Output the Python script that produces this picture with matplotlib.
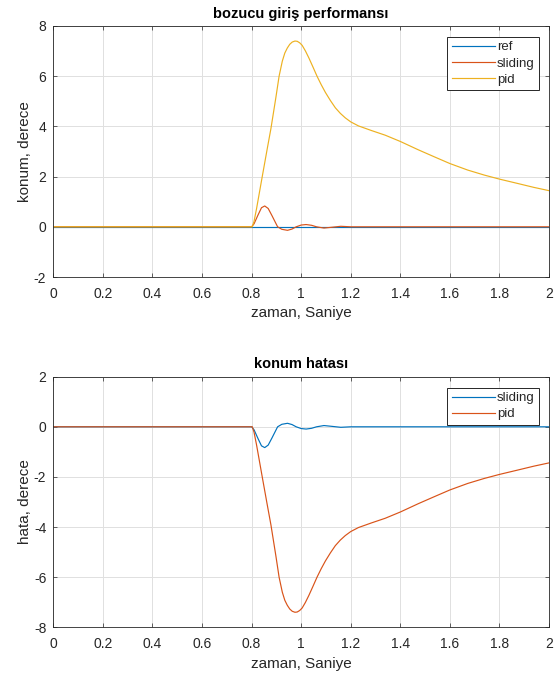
import matplotlib
matplotlib.use("Agg")
import matplotlib.pyplot as plt
import numpy as np

# ---------------- data ----------------
ref_t = [0.0, 2.0]
ref_y = [0.0, 0.0]

sliding_t = [0.0, 0.80, 0.81, 0.825, 0.84, 0.853, 0.867, 0.882, 0.905, 0.922,
             0.945, 0.963, 0.980, 1.000, 1.020, 1.042, 1.062, 1.092, 1.122, 1.160,
             1.20, 2.0]
sliding_y = [0.0, 0.0, 0.12, 0.45, 0.76, 0.83, 0.73, 0.45, 0.0, -0.10,
             -0.14, -0.09, 0.0, 0.07, 0.09, 0.06, 0.0, -0.05, -0.02, 0.02,
             0.0, 0.0]

pid_t = [0.0, 0.80, 0.803, 0.81, 0.82, 0.843, 0.863, 0.878, 0.898, 0.911,
         0.924, 0.934, 0.944, 0.954, 0.964, 0.975, 0.984, 0.994, 1.004, 1.017,
         1.031, 1.047, 1.064, 1.081, 1.098, 1.118, 1.138, 1.158,
         1.178, 1.20, 1.231, 1.285, 1.339, 1.40, 1.472, 1.539,
         1.60, 1.672, 1.739, 1.80, 1.872, 1.939, 2.0]
pid_y = [0.0, 0.0, 0.0, 0.22, 0.72, 2.00, 3.10, 3.91, 5.15, 6.00,
         6.60, 6.92, 7.12, 7.27, 7.36, 7.40, 7.39, 7.33, 7.23, 7.01,
         6.73, 6.38, 6.00, 5.66, 5.35, 5.03, 4.74, 4.52,
         4.34, 4.18, 4.02, 3.83, 3.65, 3.40, 3.07, 2.78,
         2.52, 2.26, 2.06, 1.90, 1.73, 1.57, 1.44]

# position error = reference - output
ref_at_sliding = np.interp(sliding_t, ref_t, ref_y)
ref_at_pid = np.interp(pid_t, ref_t, ref_y)
hata_sliding = ref_at_sliding - np.array(sliding_y)
hata_pid = ref_at_pid - np.array(pid_y)

x_ticks = [0, 0.2, 0.4, 0.6, 0.8, 1, 1.2, 1.4, 1.6, 1.8, 2]
x_ticklabels = ["0", "0.2", "0.4", "0.6", "0.8", "1", "1.2", "1.4", "1.6", "1.8", "2"]
y1_ticks = [-2, 0, 2, 4, 6, 8]
y2_ticks = [-8, -6, -4, -2, 0, 2]

titles = ["bozucu giriş performansı", "konum hatası"]
ylabels = ["konum, derece", "hata, derece"]
xlabel = "zaman, Saniye"

# ---------------- style ----------------
C1 = "#0072BD"
C2 = "#D95319"
C3 = "#EDB120"
TXT = "#262626"

plt.rcParams["font.family"] = ["Liberation Sans", "DejaVu Sans"]
plt.rcParams["axes.edgecolor"] = TXT
plt.rcParams["axes.linewidth"] = 0.6
plt.rcParams["xtick.color"] = TXT
plt.rcParams["ytick.color"] = TXT

fig = plt.figure(figsize=(5.54, 6.73), dpi=100)
ax1 = fig.add_axes([0.0962, 0.5884, 0.8948, 0.3730])
ax2 = fig.add_axes([0.0962, 0.0679, 0.8948, 0.3724])


def style(ax, yticks, title, ylabel):
    ax.set_xlim(0, 2)
    ax.set_ylim(yticks[0], yticks[-1])
    ax.set_xticks(x_ticks)
    ax.set_xticklabels(x_ticklabels)
    ax.set_yticks(yticks)
    ax.set_yticklabels([str(v) for v in yticks])
    ax.grid(True, color="#e0e0e0", linewidth=0.7)
    ax.set_axisbelow(True)
    ax.tick_params(direction="in", length=3, width=0.5, top=True, right=True,
                   labelsize=10, colors=TXT)
    ax.tick_params(axis="x", pad=7)
    ax.tick_params(axis="y", pad=5)
    ax.set_title(title, fontsize=10.5, fontweight="bold", color="black", pad=6)
    ax.set_xlabel(xlabel, fontsize=11, color=TXT, labelpad=4)
    ax.set_ylabel(ylabel, fontsize=11, color=TXT, labelpad=1)


LW = 0.85
ax1.plot(ref_t, ref_y, color=C1, lw=LW, label="ref")
ax1.plot(sliding_t, sliding_y, color=C2, lw=LW, label="sliding")
ax1.plot(pid_t, pid_y, color=C3, lw=LW, label="pid")
style(ax1, y1_ticks, titles[0], ylabels[0])

ax2.plot(sliding_t, hata_sliding, color=C1, lw=LW, label="sliding")
ax2.plot(pid_t, hata_pid, color=C2, lw=LW, label="pid")
style(ax2, y2_ticks, titles[1], ylabels[1])

for ax in (ax1, ax2):
    leg = ax.legend(loc="upper right", bbox_to_anchor=(0.98, 0.956),
                    borderaxespad=0, fontsize=9.5, handlelength=3.3,
                    handletextpad=0.15, labelspacing=0.3, borderpad=0.32,
                    fancybox=False, framealpha=1)
    leg.get_frame().set_edgecolor("#262626")
    leg.get_frame().set_linewidth(0.7)
    for t in leg.get_texts():
        t.set_color(TXT)

fig.savefig("out.png", dpi=100)
